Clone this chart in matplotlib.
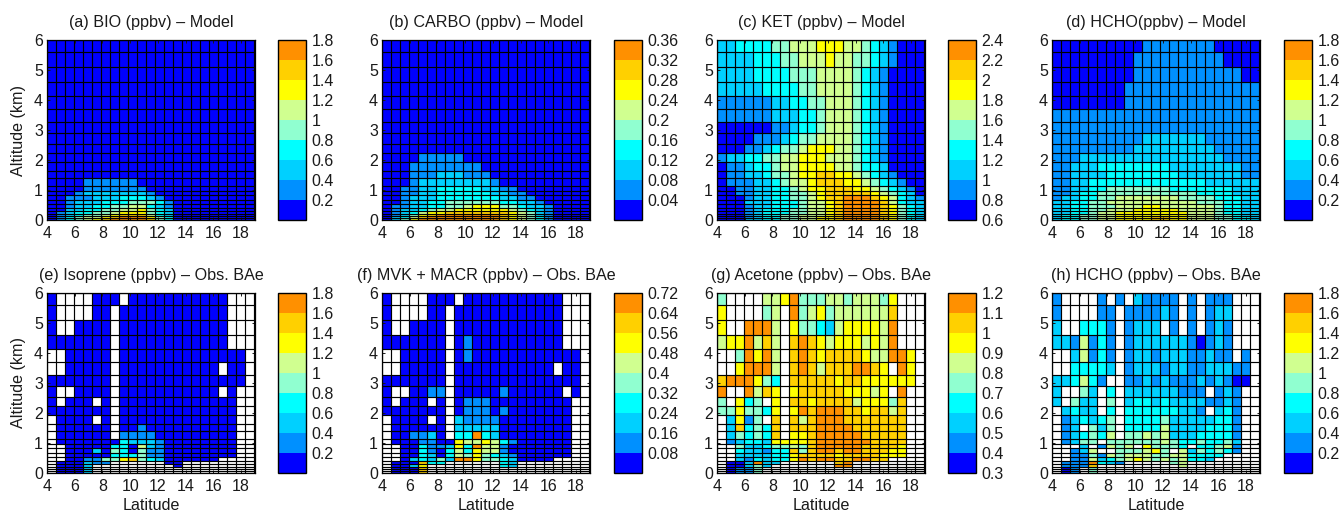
import numpy as np
import matplotlib
matplotlib.use("Agg")
import matplotlib.pyplot as plt
from matplotlib.colors import ListedColormap, Normalize

plt.rcParams['font.family'] = ['Liberation Sans', 'DejaVu Sans']

W, H = 1341, 513
NCOL = 23
lat_step = 0.65
lat_edges = 4 + lat_step * np.arange(NCOL + 1)
alt_edges = [6.0, 5.6, 5.1, 4.6, 4.13, 3.7, 3.28, 2.9, 2.55, 2.23, 1.93, 1.65, 1.39, 1.15,
             0.97, 0.83, 0.67, 0.52, 0.40, 0.29, 0.20, 0.13, 0.07, 0.0]

palette = ['#0000ff', '#0090ff', '#00d0ff', '#00ffff', '#90ffd0',
           '#d0ff90', '#ffff00', '#ffd000', '#ff9000']

# colour class of each cell, top row first; '.' = no data
bio = ["0"] * 12 + [
    "00001111110", "00001111111", "000122222221", "0011122233321",
    "00122233344431", "00122334455321", "00223344556432", "01233445666432",
    "01234456777532", "01345567888643", "01345678888743"]
carbo = ["0"] * 9 + [
    "000011111", "00011111111", "000111222111", "0001222222221",
    "001122333332211", "0011223333332211", "00122233333332211", "001223344444433221",
    "0112233445666443221", "0122345566666654321", "0123566777777765421", "0124678888888765421",
    "0235788888888765431", "0246888888888765431"]
ket = [
    "22333344555666554321000",
    "22223334455565544321000",
    "22223333444555543210000",
    "22222333344555543210000",
    "11111122334455543210000",
    "11111122233455543210000",
    "00000011233455543210000",
    "00001112344555543210000",
    "00011234456665543210000",
    "12233445566655543210000",
    "01123345566665543320000",
    "01122344566776654321000",
    "01112234556777665432100",
    "00112233456677766543210",
    "00112233445677777654320",
    "00012233445677888765321",
    "00022233345567888875322",
    "00012233345567888876432",
    "00012333445567888876432",
    "00012333445567888876432",
    "00012334455567888876432",
    "00012334455667888876432",
    "00022334455667888876432"]
hcho_m = [
    "00000000001111111100000",
    "00000000011111111110000",
    "00000000011111111111100",
    "00000000111111111111111",
    "00000000111111111111111",
    "11111111111111111111111",
    "11111111111111111111111",
    "11111111112222222111111",
    "11111111122222222211111",
    "11122222222222222221111",
    "11222333333332222222211",
    "11222233333333222222211",
    "11223333333333333222222",
    "11223344444443333333222",
    "11233444444444443333222",
    "12233445555555444433322",
    "22334455555555554443322",
    "22334445556655555543322",
    "22334455566666555543322",
    "22334556666666655543322",
    "23344556666666655544322",
    "23344556666776655544332",
    "23344556666776655544332"]
iso = [
    "0....000.00000000000...",
    "0....00.000000000000...",
    "0..0000.000000000000...",
    "0000000.000000000000...",
    "..00000.00000000000000.",
    "..00000.00000000000.00.",
    "0000000.00000000000000.",
    "0..0000.00000000000.0..",
    "0.000.0.0000000000000..",
    "0000000.0000000000000..",
    ".0000.0.0000000000000..",
    ".000000.0010000000000..",
    ".000000.1111000000000..",
    ".00000003222100000000..",
    "..0000033052100000000..",
    "..0002043041100000000..",
    "..0000033341100000000..",
    "..00114467432000000....",
    ".000211......00........",
    ".0002.........0........",
    ".0002..................",
    ".0002..................",
    ".0002.................."]
mvk = [
    "0....000.00000000000...",
    "0....00.000000000000...",
    "0..0000.000000000000...",
    "0000000.010000000000...",
    "..00000.01000000000000.",
    "..00000.00000000000.00.",
    "0000000.00000000000000.",
    "0..0011.000001000000.0..",
    "0.000.0.0111000000000..",
    "0000000.0111010000000..",
    ".0000.0.2111100000000..",
    ".000000.2222200000000..",
    ".001120.3383200000000..",
    ".00011006556531000000..",
    "..0031126385510000000..",
    "..0031035365510000000..",
    "..0032035464321000000..",
    "..02324288644320000....",
    ".000733......32........",
    ".0026........32........",
    ".0007..................",
    ".0007..................",
    ".0007.................."]
acetone = [
    "4....556844455455546...",
    "6....45.845645555557...",
    "6..8885.644325666658...",
    "5668575.787656665658...",
    "..48685.78767777655886.",
    "..68885.78757778876.86.",
    "7888643.77777677666666.",
    "8..8576.67777766656.8..",
    "4.634.6.7767777566647..",
    "4464436.6878887767757..",
    ".2614.7.7578887777777..",
    ".273437.7778888777777..",
    ".243437.6678888877777..",
    ".12332666678888887777..",
    "..4223445478888877776..",
    "..3221337478878877766..",
    "..2222336777767777666..",
    "..21323368788778877....",
    ".002822......78........",
    ".00242.......88........",
    ".0114..................",
    ".0114..................",
    ".0114.................."]
hcho_o = [
    "1....1.1.21111.1.111...",
    "1....11.111121.1.122...",
    "2..3331.1222.1.1.121...",
    "2215131.122222210121...",
    "..25131.122122211211.1.",
    "..33332.12221221122211.",
    "223531..11212111212100.",
    "2..42.3.222222111.121..",
    "2.422.4.2332322221121..",
    ".2322.3.333333221.231..",
    ".123234.3333422222331..",
    ".12.424.3333522223331..",
    ".123435.4454522233331..",
    ".1244.444444543343342..",
    "...2.1545.64443.33451..",
    "..125..444564.5243431..",
    "..11415455544553333....",
    "..1152345654545332.....",
    ".1118321.....45........",
    ".1117.........5........",
    ".01.4..................",
    ".01.4..................",
    ".01.4.................."]

tick_a = [0.2, 0.4, 0.6, 0.8, 1, 1.2, 1.4, 1.6, 1.8]
tick_b = [0.04, 0.08, 0.12, 0.16, 0.2, 0.24, 0.28, 0.32, 0.36]
tick_c = [0.6, 0.8, 1, 1.2, 1.4, 1.6, 1.8, 2, 2.2, 2.4]
tick_f = [0.08, 0.16, 0.24, 0.32, 0.4, 0.48, 0.56, 0.64, 0.72]
tick_g = [0.3, 0.4, 0.5, 0.6, 0.7, 0.8, 0.9, 1, 1.1, 1.2]

panels = [
    ("(a) BIO (ppbv) – Model", bio, 0.0, 0.2, 47, 278, 40, tick_a),
    ("(b) CARBO (ppbv) – Model", carbo, 0.0, 0.04, 382, 614, 40, tick_b),
    ("(c) KET (ppbv) – Model", ket, 0.6, 0.2, 717, 948, 40, tick_c),
    ("(d) HCHO(ppbv) – Model", hcho_m, 0.0, 0.2, 1052, 1284, 40, tick_a),
    ("(e) Isoprene (ppbv) – Obs. BAe", iso, 0.0, 0.2, 47, 278, 293, tick_a),
    ("(f) MVK + MACR (ppbv) – Obs. BAe", mvk, 0.0, 0.08, 382, 614, 293, tick_f),
    ("(g) Acetone (ppbv) – Obs. BAe", acetone, 0.3, 0.1, 717, 948, 293, tick_g),
    ("(h) HCHO (ppbv) – Obs. BAe", hcho_o, 0.0, 0.2, 1052, 1284, 293, tick_a),
]

cmap = ListedColormap(palette)
cmap.set_bad('white')

def to_values(rows, vmin, step):
    out = np.full((len(rows), NCOL), np.nan)
    for r, row in enumerate(rows):
        row = row.ljust(NCOL, '.' if '.' in row else '0')[:NCOL]
        for c, ch in enumerate(row):
            if ch != '.':
                out[r, c] = vmin + (int(ch) + 0.5) * step
    return np.ma.masked_invalid(out)

fig = plt.figure(figsize=(W / 100, H / 100), dpi=100)
FS = 11.6
TXT = '#1a1a1a'

def rect(x0, y0, w, h):
    return [x0 / W, 1 - (y0 + h) / H, w / W, h / H]

for idx, (title, rows, vmin, step, ax_x, cb_x, top, cticks) in enumerate(panels):
    ax = fig.add_axes(rect(ax_x, top, 208, 180))
    norm = Normalize(vmin, vmin + 9 * step)
    mesh = ax.pcolormesh(lat_edges, alt_edges, to_values(rows, vmin, step), cmap=cmap, norm=norm,
                         antialiased=False)
    ax.vlines(lat_edges, 0, 6, color='black', linewidth=0.85)
    ax.hlines(alt_edges, lat_edges[0], lat_edges[-1], color='black', linewidth=0.85)
    ax.set_facecolor('white')
    ax.set_xlim(4, 19)
    ax.set_ylim(0, 6)
    ax.set_xticks(range(4, 19, 2))
    ax.set_yticks(range(0, 7))
    ax.tick_params(direction='in', length=2.5, width=0.7, top=True, right=True,
                   labelsize=FS - 0.1, colors=TXT)
    ax.tick_params(axis='x', pad=4.5)
    ax.tick_params(axis='y', pad=3)
    for s in ax.spines.values():
        s.set_linewidth(0.9)
    ax.text(0.5, 1.0 + 17.5 / 180, title, transform=ax.transAxes, ha='center', va='center',
            fontsize=FS, color=TXT)
    if idx in (0, 4):
        ax.text(-28.0 / 208, 0.5, "Altitude (km)", transform=ax.transAxes, rotation=90,
                ha='center', va='center', fontsize=FS, color=TXT)
    if idx >= 4:
        ax.text(0.5, -32.0 / 180, "Latitude", transform=ax.transAxes, ha='center', va='center',
                fontsize=FS, color=TXT)
    cax = fig.add_axes(rect(cb_x, top, 28, 180))
    cb = fig.colorbar(mesh, cax=cax, ticks=cticks, format='%g', drawedges=False)
    cb.ax.tick_params(length=0, labelsize=FS - 0.1, pad=4, colors=TXT)
    cb.outline.set_linewidth(1.0)

fig.savefig("out.png", dpi=100)
